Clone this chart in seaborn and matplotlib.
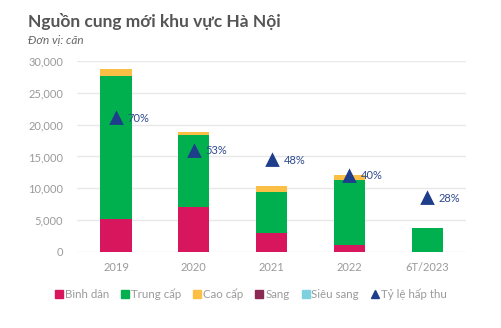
import matplotlib
matplotlib.use("Agg")
import matplotlib.pyplot as plt
from matplotlib.lines import Line2D
import seaborn as sns
import pandas as pd
import numpy as np

years = ["2019", "2020", "2021", "2022", "6T/2023"]
binh_dan = [5100, 7000, 2900, 1050, 0]
trung_cap = [22600, 11300, 6550, 10250, 3770]
cao_cap = [1050, 580, 940, 740, 0]
sang = [0, 0, 0, 0, 0]
sieu_sang = [0, 0, 0, 0, 0]
ty_le = [0.70, 0.53, 0.48, 0.40, 0.28]
ty_le_labels = ["70%", "53%", "48%", "40%", "28%"]

series_names = ["Bình dân", "Trung cấp", "Cao cấp", "Sang", "Siêu sang"]
series_vals = [binh_dan, trung_cap, cao_cap, sang, sieu_sang]
colors = ["#D8165E", "#00B04F", "#FBBF45", "#8B2A55", "#7ED1DE"]
tri_color = "#1E3D8A"

sns.set_theme(style="white")
plt.rcParams["font.family"] = ["Lato", "DejaVu Sans"]

fig = plt.figure(figsize=(5.01, 3.28), dpi=100)
ax = fig.add_axes([0.154, 0.232, 0.776, 0.582])

# stacked: draw cumulative from top down
cum = np.cumsum(np.array(series_vals), axis=0)
for i in range(len(series_names) - 1, -1, -1):
    df = pd.DataFrame({"year": years, "v": cum[i]})
    sns.barplot(data=df, x="year", y="v", color=colors[i], width=0.4,
                saturation=1, ax=ax, zorder=2, edgecolor="none")

ax.set_ylim(0, 30000)
ax.set_xlim(-0.5, 4.5)
ax.set_yticks(range(0, 30001, 5000))
ax.set_yticklabels([f"{v:,}" for v in range(0, 30001, 5000)])
ax.yaxis.grid(True, color="#E8E8E8", linewidth=1, zorder=0)
ax.set_axisbelow(True)
for s in ax.spines.values():
    s.set_visible(False)
ax.tick_params(axis="both", length=0, labelsize=8, labelcolor="#9A9A9A")
ax.tick_params(axis="y", pad=10)
ax.tick_params(axis="x", pad=7)
ax.set_xlabel("")
ax.set_ylabel("")

ax2 = ax.twinx()
df2 = pd.DataFrame({"year": years, "r": ty_le})
sns.pointplot(data=df2, x="year", y="r", linestyle="none", markers="^",
              color=tri_color, ax=ax2, markersize=7)
ax2.set_ylim(0, 1)
ax2.set_xlim(-0.5, 4.5)
ax2.set_yticks([])
ax2.set_ylabel("")
for s in ax2.spines.values():
    s.set_visible(False)
for i, (r, lab) in enumerate(zip(ty_le, ty_le_labels)):
    ax2.annotate(lab, (i, r), xytext=(8.5, 0), textcoords="offset points",
                 ha="left", va="center", fontsize=8, color="#2E4A8F")

fig.text(0.056, 0.935, "Nguồn cung mới khu vực Hà Nội", fontsize=12.5,
         fontweight="bold", color="#555555", ha="left", va="center")
fig.text(0.056, 0.875, "Đơn vị: căn", fontsize=8.5, style="italic",
         color="#666666", ha="left", va="center")

handles = [Line2D([], [], marker="s", linestyle="none", color=c, markersize=6)
           for c in colors]
handles.append(Line2D([], [], marker="^", linestyle="none", color=tri_color,
                      markersize=6))
labels = series_names + ["Tỷ lệ hấp thu"]
leg = fig.legend(handles, labels, loc="center", bbox_to_anchor=(0.5, 0.104),
                 ncol=6, frameon=False, fontsize=8.3, handletextpad=0.1,
                 columnspacing=1.0, handlelength=0.8)
for t in leg.get_texts():
    t.set_color("#9A9A9A")

fig.savefig("out.png", dpi=100)
